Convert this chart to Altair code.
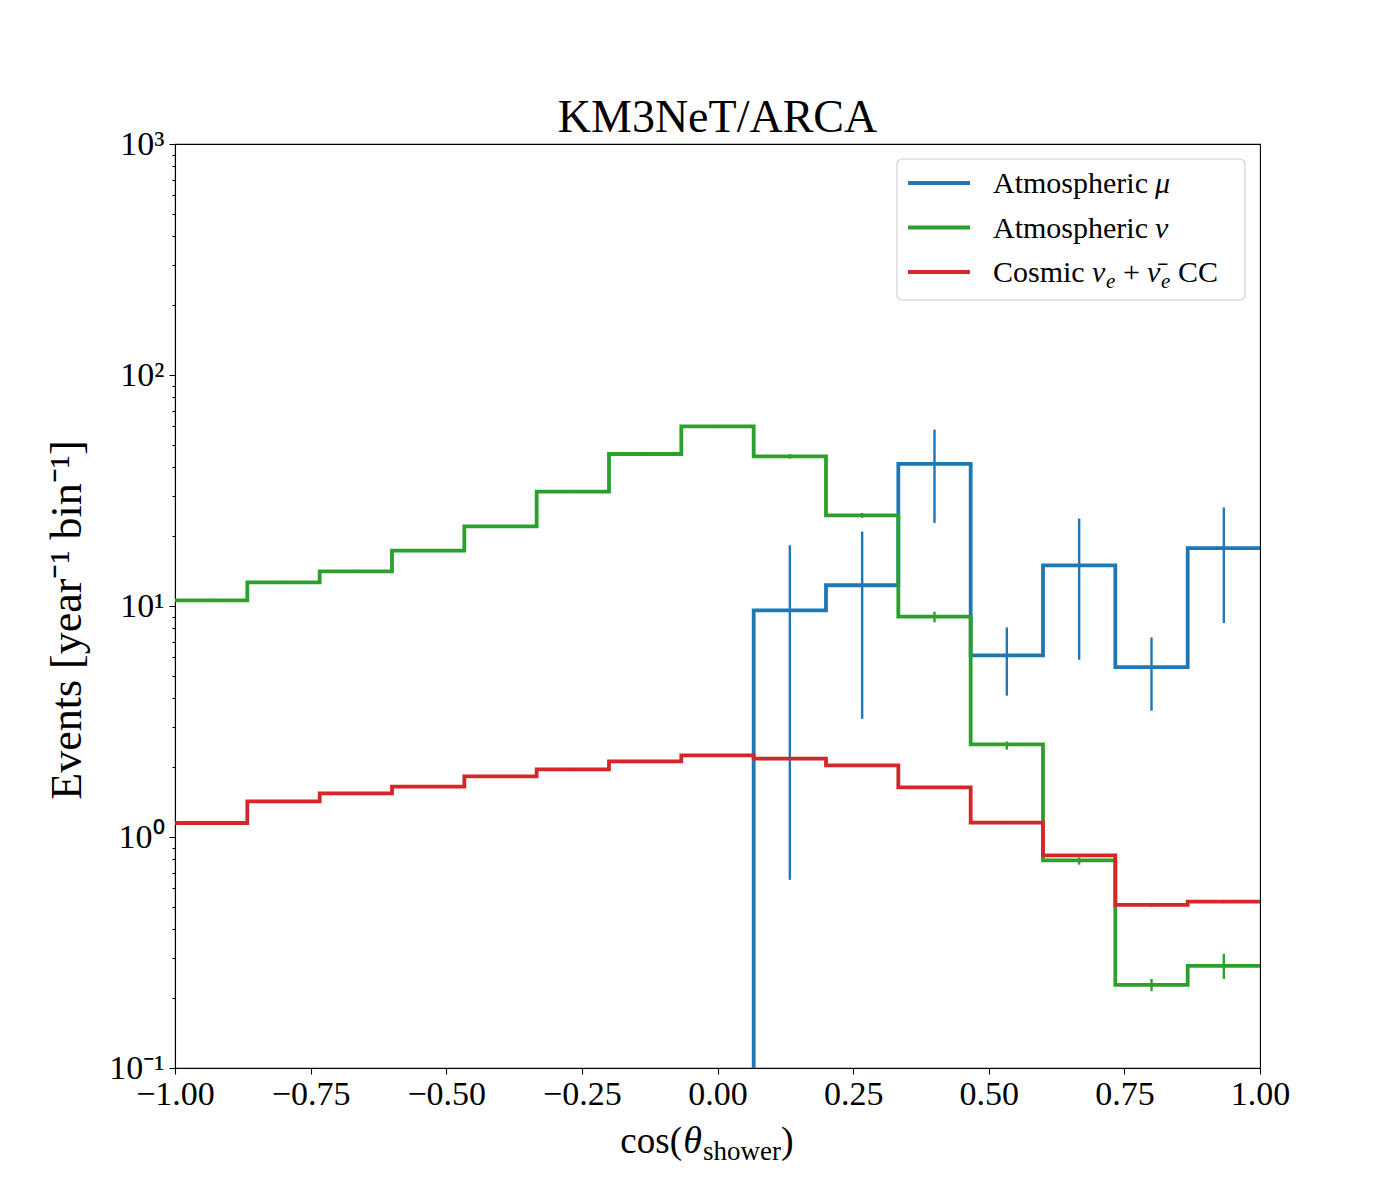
import altair as alt
import pandas as pd

# ---- data ----
edges = [-1.0, -0.8667, -0.7333, -0.6, -0.4667, -0.3333, -0.2, -0.0667,
         0.0667, 0.2, 0.3333, 0.4667, 0.6, 0.7333, 0.8667, 1.0]

blue_vals = [0, 0, 0, 0, 0, 0, 0, 0, 9.57, 12.3, 41.2, 6.11, 15.0, 5.44, 17.8]
blue_lo = [None, None, None, None, None, None, None, None, 0.653, 3.25, 22.9, 4.09, 5.85, 3.52, 8.44]
blue_hi = [None, None, None, None, None, None, None, None, 18.3, 21.0, 58.0, 8.08, 23.9, 7.31, 26.7]

green_vals = [10.57, 12.65, 14.12, 17.36, 22.1, 31.3, 45.5, 59.9, 44.4, 24.7, 8.99, 2.52, 0.792, 0.229, 0.277]
green_lo = [10.4, 12.45, 13.9, 17.1, 21.8, 30.9, 44.8, 59.0, 43.4, 24.1, 8.5, 2.39, 0.759, 0.215, 0.243]
green_hi = [10.75, 12.85, 14.35, 17.6, 22.4, 31.7, 46.2, 60.8, 45.4, 25.3, 9.45, 2.59, 0.816, 0.243, 0.312]

red_vals = [1.15, 1.426, 1.545, 1.651, 1.829, 1.962, 2.125, 2.256, 2.183, 2.042, 1.64, 1.153, 0.832, 0.508, 0.525]
red_lo = [1.138, 1.412, 1.53, 1.635, 1.812, 1.944, 2.105, 2.235, 2.162, 2.022, 1.622, 1.14, 0.82, 0.5, 0.517]
red_hi = [1.162, 1.44, 1.56, 1.667, 1.846, 1.98, 2.145, 2.277, 2.204, 2.062, 1.658, 1.166, 0.844, 0.516, 0.533]

series_names = ["Atmospheric μ", "Atmospheric ν", "Cosmic νₑ + ν̄ₑ CC"]
colors = ["#1f77b4", "#2ca02c", "#d62728"]

x_ticks = [-1.0, -0.75, -0.5, -0.25, 0.0, 0.25, 0.5, 0.75, 1.0]
y_major = [0.1, 1, 10, 100, 1000]
y_minor = [0.2, 0.3, 0.4, 0.5, 0.6, 0.7, 0.8, 0.9,
           2, 3, 4, 5, 6, 7, 8, 9,
           20, 30, 40, 50, 60, 70, 80, 90,
           200, 300, 400, 500, 600, 700, 800, 900]
y_labels = ["10⁻¹", "10⁰", "10¹", "10²", "10³"]

title_text = "KM3NeT/ARCA"
ytitle_text = "Events [year⁻¹ bin⁻¹]"

FONT = "Liberation Serif"
FLOOR = 1e-4  # empty bins drawn below the axis and clipped

all_vals = [blue_vals, green_vals, red_vals]
all_lo = [blue_lo, green_lo, red_lo]
all_hi = [blue_hi, green_hi, red_hi]

# ---- tables ----
step_rows = []
err_rows = []
for s, name in enumerate(series_names):
    vals = all_vals[s]
    for i, v in enumerate(vals):
        step_rows.append({"series": name, "x": edges[i], "y": v if v > 0 else FLOOR, "o": i})
    step_rows.append({"series": name, "x": edges[-1], "y": vals[-1] if vals[-1] > 0 else FLOOR, "o": len(vals)})
    for i in range(len(vals)):
        if all_lo[s][i] is not None:
            err_rows.append({"series": name, "xc": (edges[i] + edges[i + 1]) / 2,
                             "lo": all_lo[s][i], "hi": all_hi[s][i]})
step_df = pd.DataFrame(step_rows)
err_df = pd.DataFrame(err_rows)

major_test = "indexof([" + ",".join(str(m) for m in y_major) + "], datum.value) >= 0"
label_dict = "{" + ",".join(f"'{m}':'{l}'" for m, l in zip(y_major, y_labels)) + "}"

x_scale = alt.Scale(domain=[-1, 1], nice=False, zero=False)
y_scale = alt.Scale(type="log", domain=[0.1, 1000], nice=False)

x_axis = alt.Axis(values=x_ticks, title=None, grid=False,
                  labelExpr="replace(format(datum.value, '.2f'), '-', '−')",
                  labelFont=FONT, labelFontSize=34, labelColor="black",
                  labelFlush=False, labelPadding=3,
                  tickColor="black", tickSize=6, tickWidth=1.1,
                  domainColor="black", domainWidth=1.1)
y_axis = alt.Axis(values=y_major + y_minor, title=None, grid=False,
                  labelExpr="(" + major_test + ") ? (" + label_dict + ")[''+datum.value] : ''",
                  labelFont=FONT, labelFontSize=34, labelColor="black",
                  labelOverlap=False, labelPadding=5, labelBaseline="middle",
                  tickColor="black", tickWidth=1.0,
                  tickSize={"condition": {"test": major_test, "value": 6}, "value": 3},
                  domainColor="black", domainWidth=1.1)

layers = []
for s, name in enumerate(series_names):
    step = alt.Chart(step_df).transform_filter(alt.datum.series == name).mark_line(
        interpolate="step-after", strokeWidth=3.8, color=colors[s], clip=True,
        strokeJoin="miter", strokeCap="butt"
    ).encode(
        x=alt.X("x:Q", scale=x_scale, axis=x_axis),
        y=alt.Y("y:Q", scale=y_scale, axis=y_axis),
        order="o:Q",
    )
    err = alt.Chart(err_df).transform_filter(alt.datum.series == name).mark_rule(
        strokeWidth=2.4, color=colors[s], clip=True
    ).encode(
        x=alt.X("xc:Q", scale=x_scale, axis=x_axis),
        y=alt.Y("lo:Q", scale=y_scale, axis=y_axis),
        y2="hi:Q",
    )
    layers += [step, err]

one = alt.Data(values=[{"k": 1}])


def txt(text, x, y, size, align="left", baseline="alphabetic", italic=False, angle=None):
    kw = dict(text=text, align=align, baseline=baseline, font=FONT, fontSize=size,
              color="black", fontStyle="italic" if italic else "normal")
    if angle is not None:
        kw["angle"] = angle
    return alt.Chart(one).mark_text(**kw).encode(x=alt.value(x), y=alt.value(y))


# legend (framed box, top right)
layers.append(alt.Chart(one).mark_rect(fill="white", fillOpacity=0.8, stroke="#cccccc",
                                       strokeWidth=1.1, cornerRadius=5).encode(
    x=alt.value(722), x2=alt.value(1070), y=alt.value(15), y2=alt.value(156)))
rows_y = [39, 83.5, 128]
for s, name in enumerate(series_names):
    layers.append(alt.Chart(one).mark_rule(strokeWidth=3.8, color=colors[s]).encode(
        x=alt.value(733), x2=alt.value(795), y=alt.value(rows_y[s])))
# label pieces: roman text with italic Greek symbols, as in the reference
b0 = rows_y[0] + 10
b1 = rows_y[1] + 10
b2 = rows_y[2] + 10
layers += [
    txt("Atmospheric", 818, b0, 30), txt("μ", 980, b0, 30, italic=True),
    txt("Atmospheric", 818, b1, 30), txt("ν", 980, b1, 30, italic=True),
    txt("Cosmic", 818, b2, 30), txt("ν", 917, b2, 30, italic=True),
    txt("e", 931, b2 + 6, 21, italic=True),
    txt("+", 948, b2, 30),
    txt("ν̄", 972, b2, 30, italic=True),
    txt("e", 986, b2 + 6, 21, italic=True),
    txt("CC", 1003, b2, 30),
]

# title
layers.append(txt(title_text, 542.5, -11.6, 46, align="center"))

# y axis title
layers.append(txt(ytitle_text, -107, 476, 44, align="center", baseline="middle", angle=270))

# x axis title: cos(θ_shower)
layers += [
    txt("cos(", 507, 1009, 37, align="right"),
    txt("θ", 527, 1009, 38, align="right", italic=True),
    txt("shower", 528, 1016, 27),
    txt(")", 606, 1009, 38),
]

chart = alt.layer(*layers).properties(
    width=1085, height=924,
    background="white",
    autosize=alt.AutoSizeParams(type="none"),
    padding={"left": 167, "top": 136, "right": 132, "bottom": 124},
).configure_view(stroke="black", strokeWidth=1.1)

chart.save("out.html", embed_options={"renderer": "svg", "actions": False})
